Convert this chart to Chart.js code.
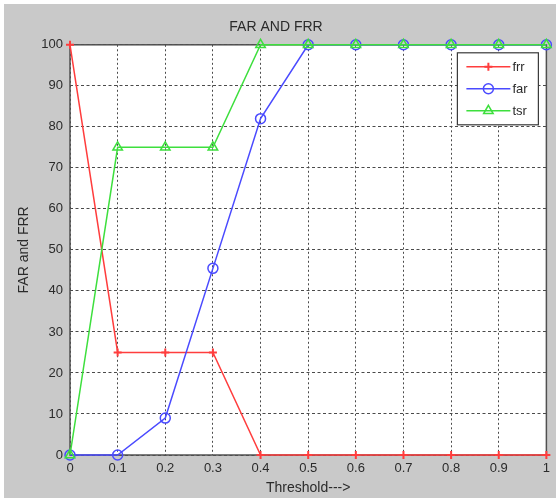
<!DOCTYPE html>
<html><head><meta charset="utf-8">
<script src="https://cdn.jsdelivr.net/npm/chart.js@4.4.1/dist/chart.umd.min.js"></script>
<style>
html,body{margin:0;padding:0;background:#fff;}
#wrap{position:absolute;left:4px;top:4px;width:552px;height:494px;}
canvas{display:block;}
</style></head><body>
<div id="wrap"><canvas id="c" width="552" height="494"></canvas></div>
<script>
const thresholds = [0, 0.1, 0.2, 0.3, 0.4, 0.5, 0.6, 0.7, 0.8, 0.9, 1];
const frrValues = [100, 25, 25, 25, 0, 0, 0, 0, 0, 0, 0];
const farValues = [0, 0, 9, 45.5, 82, 100, 100, 100, 100, 100, 100];
const tsrValues = [0, 75, 75, 75, 100, 100, 100, 100, 100, 100, 100];
const xTickLabels = ['0', '0.1', '0.2', '0.3', '0.4', '0.5', '0.6', '0.7', '0.8', '0.9', '1'];
const yTickLabels = ['0', '10', '20', '30', '40', '50', '60', '70', '80', '90', '100'];
const seriesNames = ['frr', 'far', 'tsr'];
const chartTitle = 'FAR AND FRR';
const xTitle = 'Threshold--->';
const yTitle = 'FAR and FRR';

const FONT = "'Liberation Sans', Arial, sans-serif";
const TXT = '#2b2b2b';

function pts(vals) { return thresholds.map((x, i) => ({ x: x, y: vals[i] })); }

const bgPlugin = {
  id: 'bg',
  beforeDraw(chart) {
    const ctx = chart.ctx, a = chart.chartArea;
    ctx.save();
    ctx.fillStyle = '#c9c9c9';
    ctx.fillRect(0, 0, chart.width, chart.height);
    ctx.fillStyle = '#ffffff';
    ctx.fillRect(a.left, a.top, a.right - a.left, a.bottom - a.top);
    ctx.restore();
  },
  beforeDatasetsDraw(chart) {
    const ctx = chart.ctx, a = chart.chartArea;
    ctx.save();
    ctx.strokeStyle = '#505050';
    ctx.lineWidth = 1.5;
    ctx.strokeRect(a.left, a.top, a.right - a.left, a.bottom - a.top);
    ctx.restore();
  }
};

function drawMarker(ctx, ds, x, y) {
  const opts = { pointStyle: ds.pointStyle, radius: ds.pointRadius, borderWidth: ds.pointBorderWidth || ds.borderWidth, rotation: 0 };
  ctx.save();
  ctx.strokeStyle = ds.borderColor;
  ctx.fillStyle = ds.pointBackgroundColor || 'rgba(0,0,0,0)';
  ctx.lineWidth = opts.borderWidth;
  if (Chart.helpers && Chart.helpers.drawPoint) {
    Chart.helpers.drawPoint(ctx, opts, x, y);
  }
  ctx.restore();
}

const legendPlugin = {
  id: 'boxLegend',
  afterDatasetsDraw(chart) {
    const ctx = chart.ctx;
    const a = chart.chartArea;
    const bx = a.right - 89, by = a.top + 8, bw = 81, bh = 72;
    ctx.save();
    ctx.fillStyle = '#ffffff';
    ctx.fillRect(bx, by, bw, bh);
    ctx.strokeStyle = '#3a3a3a';
    ctx.lineWidth = 1.2;
    ctx.strokeRect(bx, by, bw, bh);
    chart.data.datasets.forEach((ds, i) => {
      const y = by + 14 + i * 22;
      ctx.strokeStyle = ds.borderColor;
      ctx.lineWidth = ds.borderWidth;
      ctx.beginPath();
      ctx.moveTo(bx + 9, y);
      ctx.lineTo(bx + 53, y);
      ctx.stroke();
      drawMarker(ctx, ds, bx + 31, y);
      ctx.fillStyle = TXT;
      ctx.font = '13px ' + FONT;
      ctx.textBaseline = 'middle';
      ctx.textAlign = 'left';
      ctx.fillText(seriesNames[i], bx + 55, y + 1);
    });
    ctx.restore();
  }
};

new Chart(document.getElementById('c'), {
  type: 'line',
  data: {
    datasets: [
      { label: seriesNames[0], data: pts(frrValues), order: 3, borderColor: '#ff3d3d', backgroundColor: '#ff3d3d',
        pointBackgroundColor: '#ff3d3d', borderWidth: 1.5, pointStyle: 'cross', pointRadius: 4, pointBorderWidth: 2, clip: false },
      { label: seriesNames[1], data: pts(farValues), order: 2, borderColor: '#4a4aff', backgroundColor: 'rgba(0,0,0,0)',
        pointBackgroundColor: 'rgba(0,0,0,0)', borderWidth: 1.5, pointStyle: 'circle', pointRadius: 5, pointBorderWidth: 1.5, clip: false },
      { label: seriesNames[2], data: pts(tsrValues), order: 1, borderColor: '#3ddf3d', backgroundColor: 'rgba(0,0,0,0)',
        pointBackgroundColor: 'rgba(0,0,0,0)', borderWidth: 1.5, pointStyle: 'triangle', pointRadius: 5.5, pointBorderWidth: 1.5, clip: false }
    ]
  },
  options: {
    responsive: false,
    animation: false,
    layout: { padding: { left: 0, right: 8, top: 0, bottom: 0 } },
    plugins: {
      legend: { display: false },
      tooltip: { enabled: false },
      title: { display: true, text: chartTitle, color: TXT, font: { family: FONT, size: 14, weight: 'normal' }, padding: { top: 15, bottom: 9 } }
    },
    scales: {
      x: {
        type: 'linear', min: 0, max: 1,
        afterFit(s) { s.height = 43; },
        ticks: { stepSize: 0.1, color: TXT, padding: 6, font: { family: FONT, size: 13 }, maxRotation: 0, autoSkip: false,
          callback: (v, i) => xTickLabels[i] },
        grid: { color: '#4a4a4a', lineWidth: 1, drawTicks: false },
        border: { display: false, dash: [2, 2.5] },
        title: { display: true, text: xTitle, color: TXT, font: { family: FONT, size: 14 }, padding: { top: 0, bottom: 1 } }
      },
      y: {
        min: 0, max: 100,
        afterFit(s) { s.width = 66; },
        ticks: { stepSize: 10, color: TXT, padding: 7, font: { family: FONT, size: 13 },
          callback: (v, i) => yTickLabels[i] },
        grid: { color: '#4a4a4a', lineWidth: 1, drawTicks: false },
        border: { display: false, dash: [3, 2.5] },
        title: { display: true, text: yTitle, color: TXT, font: { family: FONT, size: 14 }, padding: { top: 12, bottom: 0 } }
      }
    }
  },
  plugins: [bgPlugin, legendPlugin]
});
</script>
</body></html>
